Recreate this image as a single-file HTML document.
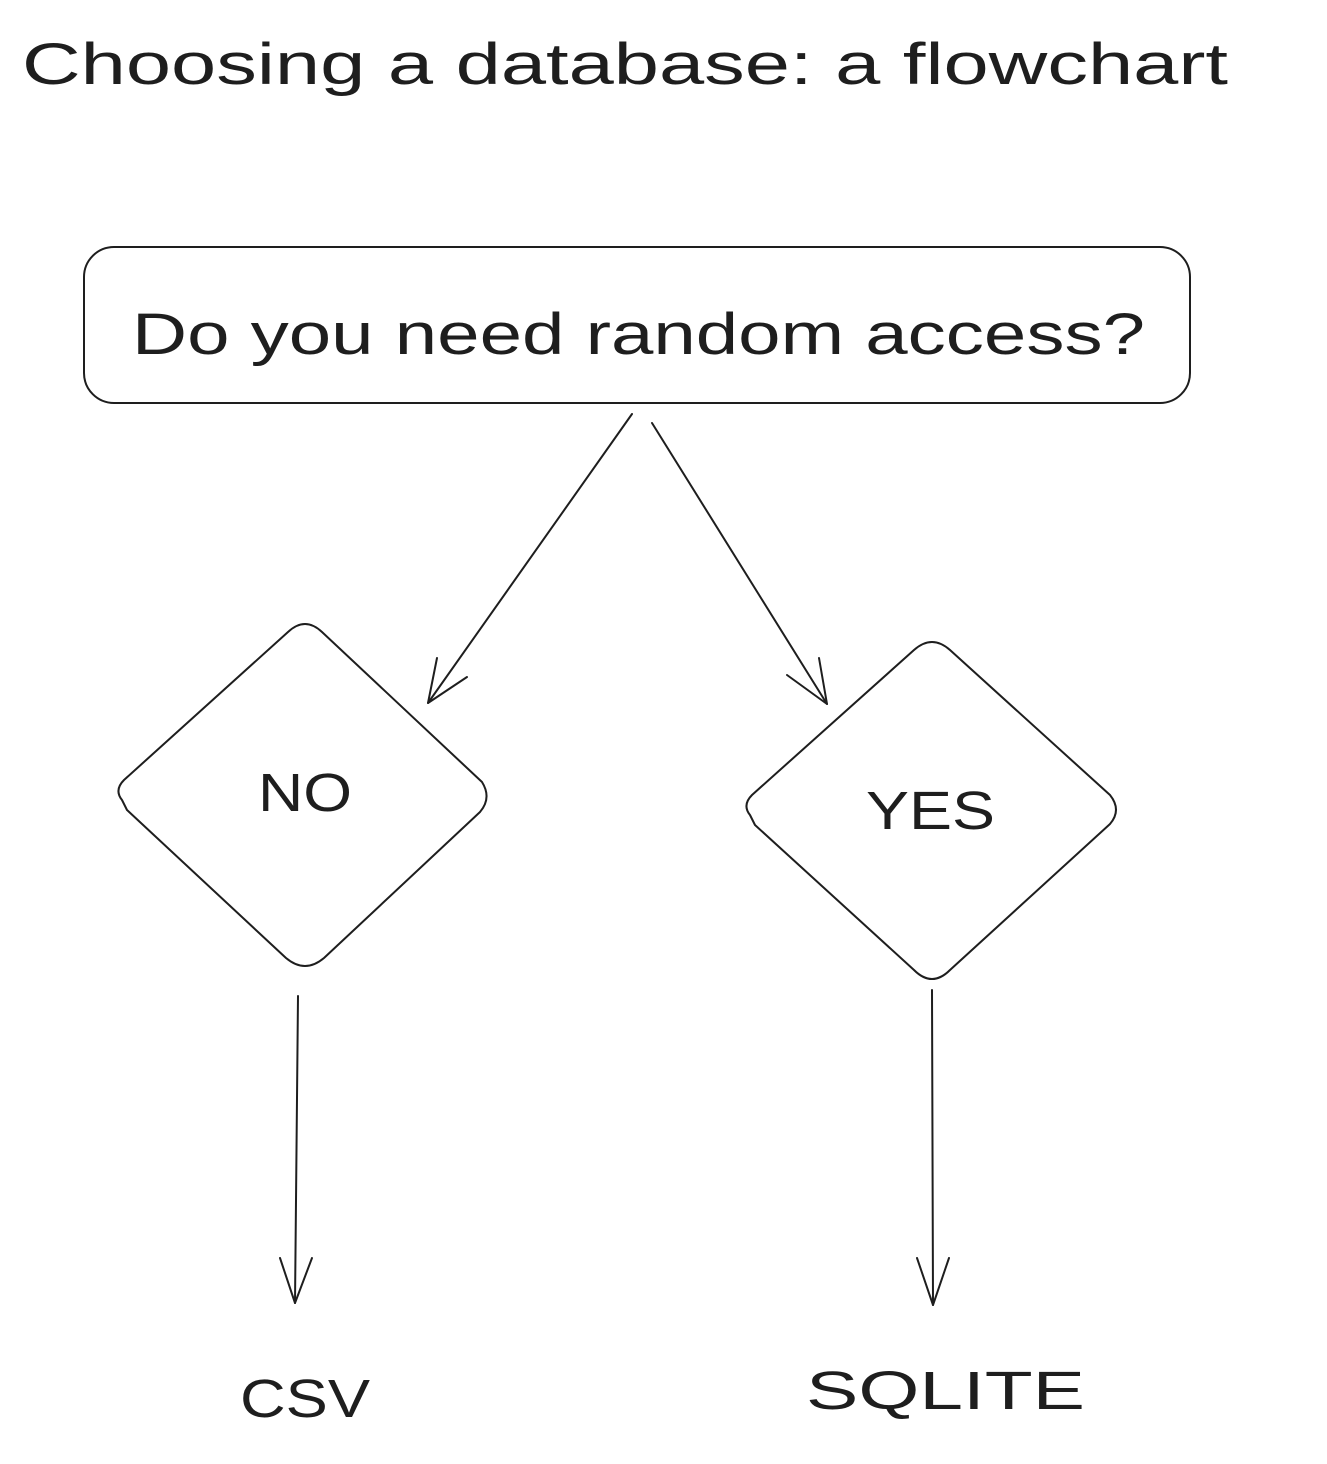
<!DOCTYPE html>
<html><head><meta charset="utf-8"><style>
html,body{margin:0;padding:0;background:#fff;}
svg{display:block}
text{font-family:"Liberation Sans",sans-serif;fill:#1e1e1e}
</style></head><body>
<svg width="1327" height="1464" viewBox="0 0 1327 1464" xmlns="http://www.w3.org/2000/svg">
<g fill="none" stroke="#1e1e1e" stroke-width="2" stroke-linecap="round" stroke-linejoin="round">
<rect x="84" y="247" width="1106" height="156" rx="30"/>
<path d="M122 800 Q114 790 124 780 L288 632 Q305 616 322 632 L482 782 Q492 798 480 812 L324 958 Q305 974 286 958 L127 810 Z"/>
<path d="M750 815 Q742 805 752 795 L914 650 Q932 634 950 650 L1110 795 Q1122 810 1110 824 L950 970 Q932 988 914 970 L755 825 Z"/>
<path d="M632 414 L428 703"/>
<path d="M428 703 L437 658 M428 703 L467 677"/>
<path d="M652 423 L827 704"/>
<path d="M827 704 L819 658 M827 704 L787 675"/>
<path d="M298 996 L295 1303"/>
<path d="M295 1303 L280 1258 M295 1303 L312 1258"/>
<path d="M932 990 L933 1305"/>
<path d="M933 1305 L917 1258 M933 1305 L949 1258"/>
</g>
<text x="22" y="84" font-size="58" textLength="1206" lengthAdjust="spacingAndGlyphs">Choosing a database: a flowchart</text>
<text x="132" y="354" font-size="58" textLength="1013" lengthAdjust="spacingAndGlyphs">Do you need random access?</text>
<text x="258" y="811" font-size="54" textLength="94" lengthAdjust="spacingAndGlyphs">NO</text>
<text x="866" y="829" font-size="54" textLength="129" lengthAdjust="spacingAndGlyphs">YES</text>
<text x="240" y="1417" font-size="54" textLength="130" lengthAdjust="spacingAndGlyphs">CSV</text>
<text x="806" y="1409" font-size="54" textLength="279" lengthAdjust="spacingAndGlyphs">SQLITE</text>
</svg>
</body></html>
